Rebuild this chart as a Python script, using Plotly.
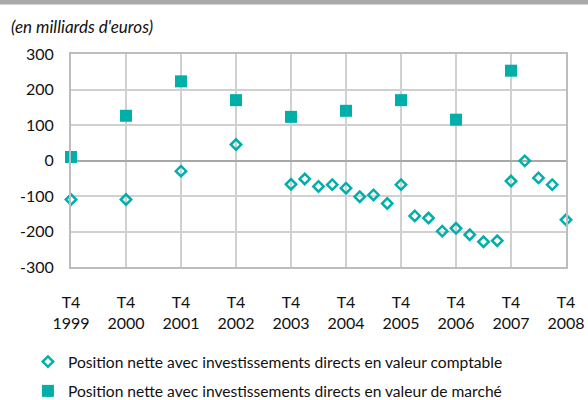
import plotly.graph_objects as go

# quarters from T4 1999 (index 0) to T4 2008 (index 36)
comptable_q = [0, 4, 8, 12, 16, 17, 18, 19, 20, 21, 22, 23, 24, 25, 26, 27, 28, 29, 30, 31, 32, 33, 34, 35, 36]
comptable = [-110, -110, -30, 45, -67, -52, -73, -68, -78, -102, -97, -121, -68,
             -156, -162, -199, -191, -209, -229, -226, -58, -1, -49, -68, -167]

marche_q = [0, 4, 8, 12, 16, 20, 24, 28, 32]
marche = [10, 126, 223, 170, 123, 140, 170, 115, 253]

tick_q = [0, 4, 8, 12, 16, 20, 24, 28, 32, 36]
years = ["1999", "2000", "2001", "2002", "2003", "2004", "2005", "2006", "2007", "2008"]
tick_labels = ["T4<br>" + y for y in years]

y_ticks = [-300, -200, -100, 0, 100, 200, 300]
y_labels = ["-300", "-200", "-100", "0", "100", "200", "300"]

teal = "#00AFAA"
font = "Lato, 'Open Sans', sans-serif"

fig = go.Figure()
fig.add_trace(go.Scatter(
    x=comptable_q, y=comptable, mode="markers",
    name="Position nette avec investissements directs en valeur comptable",
    legendgroup="a",
    marker=dict(symbol="diamond-open", size=8, color=teal, line=dict(width=2.5, color=teal)),
    cliponaxis=False,
))
fig.add_trace(go.Scatter(
    x=marche_q, y=marche, mode="markers",
    name="Position nette avec investissements directs en valeur de marché",
    legendgroup="b",
    marker=dict(symbol="square", size=12, color=teal),
    cliponaxis=False,
))

fig.update_layout(
    width=588, height=400,
    margin=dict(l=71, r=22, t=54, b=133, autoexpand=False),
    paper_bgcolor="white", plot_bgcolor="white",
    font=dict(family=font, size=16, color="#111"),
    showlegend=True,
    legend=dict(orientation="v", x=-0.087, y=-0.366, xanchor="left", yanchor="top",
                font=dict(size=15.6), itemwidth=30, tracegroupgap=6),
    xaxis=dict(range=[0, 36], tickvals=tick_q, ticktext=tick_labels,
               showgrid=True, gridcolor="#d0d0d0", gridwidth=1.5,
               showline=True, linecolor="#bdbdbd", linewidth=2, mirror=True,
               zeroline=False, ticks="", ticklabelstandoff=20, tickfont=dict(size=16)),
    yaxis=dict(range=[-300, 300], tickvals=y_ticks, ticktext=y_labels,
               showgrid=True, gridcolor="#d0d0d0", gridwidth=1.5,
               showline=True, linecolor="#bdbdbd", linewidth=2, mirror=True,
               zeroline=True, zerolinecolor="#a8a8a8", zerolinewidth=2,
               ticks="", ticklabelstandoff=12, tickfont=dict(size=16)),
    shapes=[dict(type="rect", xref="paper", yref="paper",
                 x0=-0.2, x1=1.1, y0=1.232, y1=1.3,
                 fillcolor="#aaaaaa", line=dict(width=0), layer="above")],
    annotations=[dict(text="<i>(en milliards d'euros)</i>", xref="paper", yref="paper",
                      x=-0.125, y=1.127, xanchor="left", yanchor="middle",
                      showarrow=False, font=dict(size=17, color="#111"))],
)

# drop the default page margin so the figure sits at the window's top-left corner
fig.write_html("out.html", config={"displayModeBar": False},
               post_script="document.body.style.margin='0';")
